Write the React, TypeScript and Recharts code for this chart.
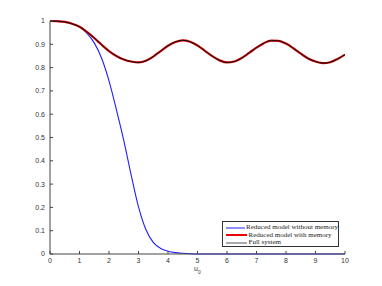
import React from 'react';
import { LineChart, Line, XAxis, YAxis, Legend } from 'recharts';

const uValues = [0, 0.25, 0.5, 0.75, 1, 1.25, 1.5, 1.75, 2, 2.25, 2.5, 2.75, 3, 3.25, 3.5, 3.75, 4, 4.25, 4.5, 4.75, 5, 5.25, 5.5, 5.75, 6, 6.25, 6.5, 6.75, 7, 7.25, 7.5, 7.75, 8, 8.25, 8.5, 8.75, 9, 9.25, 9.5, 9.75, 10];

const withoutMemory = [1.0, 1.0, 0.996, 0.988, 0.975, 0.948, 0.906, 0.84, 0.743, 0.62, 0.488, 0.34, 0.202, 0.105, 0.05, 0.024, 0.012, 0.006, 0.003, 0.001, 0.0, 0, 0, 0, 0, 0, 0, 0, 0, 0, 0, 0, 0, 0, 0, 0, 0, 0, 0, 0, 0];

const withMemory = [1.0, 0.999, 0.996, 0.988, 0.975, 0.953, 0.927, 0.898, 0.871, 0.85, 0.835, 0.826, 0.822, 0.829, 0.847, 0.871, 0.894, 0.91, 0.917, 0.911, 0.895, 0.872, 0.849, 0.831, 0.822, 0.826, 0.841, 0.863, 0.886, 0.905, 0.916, 0.915, 0.903, 0.883, 0.86, 0.839, 0.826, 0.819, 0.823, 0.837, 0.856];

const fullSystem = [1.0, 0.999, 0.996, 0.988, 0.975, 0.953, 0.927, 0.898, 0.871, 0.85, 0.835, 0.826, 0.822, 0.829, 0.847, 0.871, 0.894, 0.91, 0.917, 0.911, 0.895, 0.872, 0.849, 0.831, 0.822, 0.826, 0.841, 0.863, 0.886, 0.905, 0.916, 0.915, 0.903, 0.883, 0.86, 0.839, 0.826, 0.819, 0.823, 0.837, 0.856];

const xTicks = [0, 1, 2, 3, 4, 5, 6, 7, 8, 9, 10];
const yTicks = [0, 0.1, 0.2, 0.3, 0.4, 0.5, 0.6, 0.7, 0.8, 0.9, 1];

const seriesNames = ['Reduced model without memory', 'Reduced model with memory', 'Full system'];

const data = uValues.map((u, i) => ({
  u,
  without: withoutMemory[i],
  with: withMemory[i],
  full: fullSystem[i],
}));

const legendItems = [
  { name: seriesNames[0], color: '#1f1fff', width: 1 },
  { name: seriesNames[1], color: '#ee0000', width: 2 },
  { name: seriesNames[2], color: '#555555', width: 1 },
];

const LegendBox = () => (
  <div
    style={{
      width: 117,
      height: 26,
      border: '1px solid #333',
      background: '#fff',
      boxSizing: 'border-box',
      paddingTop: 2,
      paddingLeft: 3,
      fontFamily: '"Liberation Serif", "DejaVu Serif", serif',
      fontSize: 7,
      color: '#222',
    }}
  >
    {legendItems.map((it) => (
      <div key={it.name} style={{ display: 'flex', alignItems: 'center', height: 7.6, lineHeight: '7.6px', whiteSpace: 'nowrap' }}>
        <svg width={21} height={4} style={{ display: 'block' }}>
          <line x1={0} y1={2} x2={21} y2={2} stroke={it.color} strokeWidth={it.width} />
        </svg>
        <span style={{ marginLeft: 1.5 }}>{it.name}</span>
      </div>
    ))}
  </div>
);

const axisColor = '#444';
const tickStyle = { fontSize: 7, fill: '#333', fontFamily: '"Liberation Sans", Arial, sans-serif' };

const XLabel = (props: any) => {
  const vb = props.viewBox || { x: 50, width: 295 };
  const cx = vb.x + vb.width / 2;
  return (
    <text x={cx - 3.5} y={271} fontSize={7} fill="#333" fontFamily='"Liberation Sans", Arial, sans-serif'>
      u<tspan dy={2.5} fontSize={5}>0</tspan>
    </text>
  );
};

export default function App() {
  return (
    <div style={{ position: 'absolute', left: 0, top: 0, width: 382, height: 286, background: '#fff' }}>
      <LineChart width={382} height={286} data={data} margin={{ top: 21, right: 37, bottom: 0, left: 0 }}>
        <XAxis
          xAxisId="bottom"
          dataKey="u"
          type="number"
          domain={[0, 10]}
          ticks={xTicks}
          interval={0}
          height={32}
          stroke={axisColor}
          tickSize={-3}
          tickMargin={7}
          tick={tickStyle}
          allowDataOverflow
          label={{ content: XLabel }}
        />
        <XAxis
          xAxisId="top"
          orientation="top"
          dataKey="u"
          type="number"
          domain={[0, 10]}
          ticks={xTicks}
          interval={0}
          height={0}
          stroke={axisColor}
          tickSize={-3}
          tick={false}
        />
        <YAxis
          yAxisId="left"
          type="number"
          domain={[0, 1]}
          ticks={yTicks}
          interval={0}
          width={50}
          stroke={axisColor}
          tickSize={-3}
          tickMargin={8}
          tick={tickStyle}
          tickFormatter={(v: number) => String(Math.round(v * 10) / 10)}
        />
        <YAxis
          yAxisId="right"
          orientation="right"
          type="number"
          domain={[0, 1]}
          ticks={yTicks}
          interval={0}
          width={0}
          stroke={axisColor}
          tickSize={-3}
          tick={false}
        />
        <Legend
          layout="horizontal"
          verticalAlign="middle"
          align="center"
          content={LegendBox}
          wrapperStyle={{ left: 222, top: 221, width: 117, height: 26 }}
        />
        <Line xAxisId="bottom" yAxisId="left" type="monotone" dataKey="without" name={seriesNames[0]} stroke="#1f1fff" strokeWidth={1.1} dot={false} isAnimationActive={false} />
        <Line xAxisId="bottom" yAxisId="left" type="monotone" dataKey="with" name={seriesNames[1]} stroke="#dd0000" strokeWidth={2.2} dot={false} isAnimationActive={false} />
        <Line xAxisId="bottom" yAxisId="left" type="monotone" dataKey="full" name={seriesNames[2]} stroke="#111" strokeWidth={1} dot={false} isAnimationActive={false} />
      </LineChart>
    </div>
  );
}
